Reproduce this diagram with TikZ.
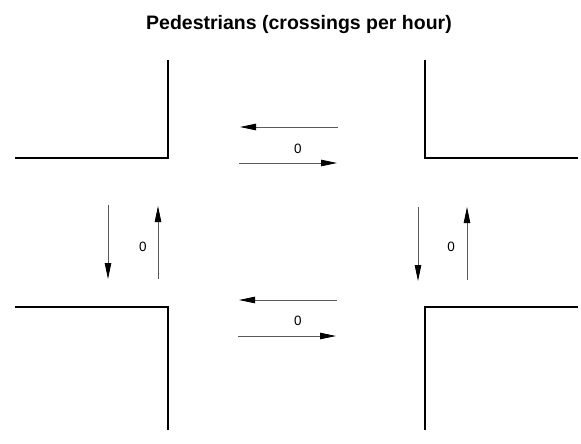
\documentclass[tikz,border=0pt]{standalone}
\usepackage{fontspec}
\setmainfont{Liberation Sans}
\usetikzlibrary{arrows.meta}
\begin{document}
\begin{tikzpicture}[x=1pt,y=-1pt,
  curb/.style={line width=2pt,black},
  flow/.style={line width=0.8pt,black!65,-{Triangle[length=16pt,width=6.5pt,black]}},
  cnt/.style={font=\fontsize{13.5}{15}\selectfont,inner sep=0pt},
  ttl/.style={font=\bfseries\fontsize{19.5}{22}\selectfont,inner sep=0pt,anchor=base}]
\useasboundingbox (0,0) rectangle (581,444);
\node[ttl] (title) at (299,30) {Pedestrians (crossings per hour)};
% corners
\coordinate (tl1) at (168,60); \coordinate (tl2) at (168,158); \coordinate (tl3) at (15,158);
\coordinate (tr1) at (425,60); \coordinate (tr2) at (425,158); \coordinate (tr3) at (578,158);
\coordinate (bl1) at (168,430); \coordinate (bl2) at (168,307); \coordinate (bl3) at (15,307);
\coordinate (br1) at (425,430); \coordinate (br2) at (425,307); \coordinate (br3) at (578,307);
\draw[curb] (tl1) -- (tl2) -- (tl3);
\draw[curb] (tr1) -- (tr2) -- (tr3);
\draw[curb] (bl1) -- (bl2) -- (bl3);
\draw[curb] (br1) -- (br2) -- (br3);
% top crossing
\coordinate (ta1) at (338,127); \coordinate (ta2) at (240,127);
\coordinate (tb1) at (239,163); \coordinate (tb2) at (337,163);
\draw[flow] (ta1) -- (ta2);
\draw[flow] (tb1) -- (tb2);
\node[cnt] (ntop) at (298,149) {0};
% bottom crossing
\coordinate (ba1) at (337,300); \coordinate (ba2) at (239,300);
\coordinate (bb1) at (238,336); \coordinate (bb2) at (336,336);
\draw[flow] (ba1) -- (ba2);
\draw[flow] (bb1) -- (bb2);
\node[cnt] (nbot) at (298,321) {0};
% left crossing
\coordinate (la1) at (108,205); \coordinate (la2) at (108,279);
\coordinate (lb1) at (158,279); \coordinate (lb2) at (158,206);
\draw[flow] (la1) -- (la2);
\draw[flow] (lb1) -- (lb2);
\node[cnt] (nleft) at (143,247) {0};
% right crossing
\coordinate (ra1) at (418,207); \coordinate (ra2) at (418,281);
\coordinate (rb1) at (467,280); \coordinate (rb2) at (467,207);
\draw[flow] (ra1) -- (ra2);
\draw[flow] (rb1) -- (rb2);
\node[cnt] (nright) at (451,247) {0};
\end{tikzpicture}
\end{document}
